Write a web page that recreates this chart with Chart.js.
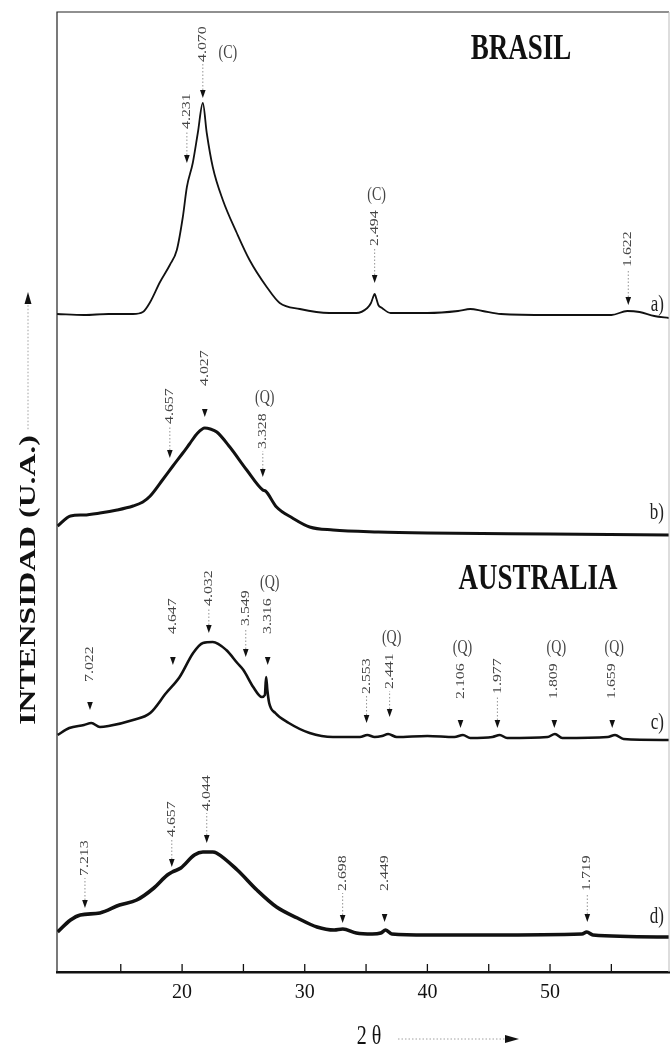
<!DOCTYPE html>
<html>
<head>
<meta charset="utf-8">
<script src="https://cdn.jsdelivr.net/npm/chart.js@4.4.0/dist/chart.umd.min.js"></script>
<style>
  body { margin: 0; background: #fff; }
</style>
</head>
<body>
<canvas id="xrd" width="671" height="1048"></canvas>
<script>
// 2 theta axis
const xTicks = [20, 30, 40, 50];
const xMinorTicks = [15, 20, 25, 30, 35, 40, 45, 50, 55];

// a) BRASIL  (intensity relative to own baseline, a.u.)
const thetaA = [9.8, 12, 14, 16, 16.8, 17.4, 18.2, 19.0, 19.57, 20.06, 20.39, 20.87, 21.28, 21.69, 22.01, 22.5, 23.32, 24.46, 25.5, 26.9, 27.96, 29.6, 32.0, 34.2, 35.1, 35.4, 35.55, 35.7, 35.85, 36.0, 36.3, 37.0, 40, 42.5, 43.5, 44.5, 46, 50, 55, 56.3, 57.3, 58.5, 59.7];
const intA   = [0, -1, 0, 0, 2, 12, 32, 49, 64, 97, 127, 151, 181, 211, 181, 147, 114, 81, 54, 27, 11, 5, 1, 1, 6, 11, 16, 20, 15, 9, 6, 1, 1, 3, 5, 3, 0, -1, -1, 3, 2, -2, -4];

// b)
const thetaB = [9.85, 10.9, 12, 13.3, 14.7, 16.0, 16.8, 17.4, 18.4, 19.25, 20.06, 20.6, 21.2, 21.85, 22.3, 22.83, 23.89, 25.27, 26.58, 26.8, 27.7, 29.0, 30.4, 32.3, 36, 40, 50, 59.7];
const intB   = [7, 17, 18, 20, 23, 27, 31, 37, 53, 67, 80, 89, 99, 105, 104, 101, 86, 63, 43, 42, 26, 15, 6, 3, 1, 0, -1, -2];

// c) AUSTRALIA
const thetaC = [9.85, 10.8, 12.0, 12.6, 13.3, 14.0, 16.0, 17.4, 18.7, 19.8, 20.9, 21.7, 22.5, 23.6, 24.5, 25.0, 25.8, 26.5, 26.75, 26.85, 26.95, 27.1, 27.6, 28.7, 30.4, 32.3, 34.5, 35.1, 35.7, 36.3, 36.8, 37.5, 40, 42.2, 42.9, 43.5, 45.3, 45.9, 46.5, 49.8, 50.4, 51, 54.7, 55.3, 56, 59.7];
const intC   = [2, 9, 12, 14, 10, 11, 17, 24, 44, 60, 84, 94, 95, 87, 74, 67, 50, 40, 42, 60, 47, 34, 24, 14, 4, 0, 0, 2, 0, 1, 3, 0, 1, 0, 2, -1, 0, 2, -1, 0, 3, -1, 0, 2, -2, -3];

// d)
const thetaD = [9.85, 10.9, 11.7, 13.3, 14.9, 16.3, 17.7, 18.8, 19.2, 19.9, 21.0, 21.7, 22.5, 22.8, 24.5, 26.1, 27.7, 29.4, 31.0, 32.4, 33.1, 34.2, 35.5, 36.2, 36.6, 37.1, 40, 45, 52.6, 53.0, 53.5, 59.7];
const intD   = [3, 15, 20, 22, 30, 35, 47, 60, 63, 67, 80, 83, 83, 82, 65, 45, 28, 17, 8, 5, 6, 2, 1, 2, 5, 1, 0, 0, 1, 3, 0, -2];

// peak labels: 2 theta of the arrow, arrow tip intensity, d spacing text, phase tag
const peakThetaA = [21.69, 20.39, 35.7, 56.38];
const peakTipA   = [216, 151, 31, 9];
const peakTextA  = ['4.070', '4.231', '2.494', '1.622'];
const peakTagA   = ['(C)', '', '(C)', ''];

const peakThetaB = [19.0, 21.85, 26.58];
const peakTipB   = [75, 116, 56];
const peakTextB  = ['4.657', '4.027', '3.328'];
const peakTagB   = ['', '', '(Q)'];

const peakThetaC = [12.49, 19.25, 22.18, 25.19, 26.98, 35.04, 36.92, 42.7, 45.71, 50.35, 55.07];
const peakTipC   = [27, 72, 104, 80, 72, 14, 20, 9, 9, 9, 9];
const peakTextC  = ['7.022', '4.647', '4.032', '3.549', '3.316', '2.553', '2.441', '2.106', '1.977', '1.809', '1.659'];
const peakTagC   = ['', '', '', '', '(Q)', '', '(Q)', '(Q)', '', '(Q)', '(Q)'];

const peakThetaD = [12.08, 19.16, 22.01, 33.09, 36.51, 53.04];
const peakTipD   = [27, 68, 92, 12, 13, 13];
const peakTextD  = ['7.213', '4.657', '4.044', '2.698', '2.449', '1.719'];
const peakTagD   = ['', '', '', '', '', ''];

const seriesNames = ['a)', 'b)', 'c)', 'd)'];

// layout (not data): vertical offsets of the stacked patterns, line widths, label leads
const offsets = [658, 439, 235, 37];
const lineWidths = [1.8, 3, 2.6, 3.6];
const leadA = [27, 25, 28, 29], dotsA = [1, 1, 1, 1];
const leadB = [25, 22, 19],     dotsB = [1, 0, 1];
const leadC = [19, 22, 18, 22, 22, 20, 19, 20, 25, 20, 20], dotsC = [0, 0, 1, 1, 0, 1, 1, 0, 1, 0, 0];
const leadD = [23, 21, 23, 23, 22, 22], dotsD = [1, 1, 1, 1, 0, 1];
const nameRise = [9, 20, 14, 18];
const STRETCH = 1.32;

const series = [
  { t: thetaA, v: intA, pk: [peakThetaA, peakTipA, peakTextA, peakTagA, leadA, dotsA] },
  { t: thetaB, v: intB, pk: [peakThetaB, peakTipB, peakTextB, peakTagB, leadB, dotsB] },
  { t: thetaC, v: intC, pk: [peakThetaC, peakTipC, peakTextC, peakTagC, leadC, dotsC] },
  { t: thetaD, v: intD, pk: [peakThetaD, peakTipD, peakTextD, peakTagD, leadD, dotsD] },
];

const datasets = series.map((s, k) => ({
  label: seriesNames[k],
  data: s.t.map((t, i) => ({ x: t, y: offsets[k] + s.v[i] })),
  borderColor: '#111',
  borderWidth: lineWidths[k],
  pointRadius: 0,
  tension: 0.3,
  cubicInterpolationMode: 'monotone',
  fill: false,
}));

// text squeezed/stretched vertically like the scanned figure
function stretchedText(ctx, txt, x, y, rotate) {
  ctx.save();
  ctx.translate(x, y);
  ctx.scale(1, STRETCH);
  if (rotate) ctx.rotate(-Math.PI / 2);
  ctx.fillText(txt, 0, 0);
  ctx.restore();
}

const decor = {
  id: 'decor',
  afterDraw(chart) {
    const { ctx, chartArea: ca, scales: { x, y } } = chart;
    ctx.save();

    // frame
    ctx.strokeStyle = '#222';
    ctx.lineWidth = 1.2;
    ctx.beginPath();
    ctx.moveTo(ca.left, ca.bottom); ctx.lineTo(ca.left, ca.top); ctx.lineTo(ca.right, ca.top);
    ctx.stroke();
    ctx.strokeStyle = '#bbb';
    ctx.lineWidth = 1;
    ctx.beginPath();
    ctx.moveTo(ca.right, ca.top); ctx.lineTo(ca.right, ca.bottom);
    ctx.stroke();

    // inward ticks
    ctx.strokeStyle = '#111';
    ctx.lineWidth = 1.3;
    xMinorTicks.forEach(v => {
      const px = x.getPixelForValue(v);
      ctx.beginPath(); ctx.moveTo(px, ca.bottom); ctx.lineTo(px, ca.bottom - 8); ctx.stroke();
    });

    // peak annotations
    series.forEach((s, k) => {
      const [th, tip, txt, tag, lead, dots] = s.pk;
      th.forEach((t, i) => {
        const px = x.getPixelForValue(t);
        const ty = y.getPixelForValue(offsets[k] + tip[i]);
        ctx.fillStyle = '#111';
        ctx.beginPath();
        ctx.moveTo(px, ty); ctx.lineTo(px - 2.8, ty - 8); ctx.lineTo(px + 2.8, ty - 8);
        ctx.closePath(); ctx.fill();
        const bottom = ty - 8 - lead[i];
        if (dots[i]) {
          ctx.strokeStyle = '#777';
          ctx.lineWidth = 0.8;
          ctx.setLineDash([1.5, 2]);
          ctx.beginPath(); ctx.moveTo(px, ty - 8); ctx.lineTo(px, bottom + 1); ctx.stroke();
          ctx.setLineDash([]);
        }
        ctx.fillStyle = '#444';
        ctx.font = '12px "Liberation Serif"';
        ctx.textAlign = 'left';
        ctx.textBaseline = 'middle';
        stretchedText(ctx, txt[i], px, bottom - 1, true);
        if (tag[i]) {
          const len = ctx.measureText(txt[i]).width * STRETCH;
          ctx.font = '14px "Liberation Serif"';
          ctx.textAlign = 'center';
          if (k === 0 && i === 0) stretchedText(ctx, tag[i], px + 25, bottom - 10, false);
          else stretchedText(ctx, tag[i], px + 2, bottom - len - 16, false);
        }
      });
      // series name
      ctx.fillStyle = '#222';
      ctx.font = '17px "Liberation Serif"';
      ctx.textAlign = 'right';
      ctx.textBaseline = 'middle';
      stretchedText(ctx, seriesNames[k], ca.right - 5, y.getPixelForValue(offsets[k]) - nameRise[k], false);
    });

    // region titles
    ctx.fillStyle = '#111';
    ctx.font = 'bold 27px "Liberation Serif"';
    ctx.textAlign = 'center';
    ctx.textBaseline = 'middle';
    stretchedText(ctx, 'BRASIL', 521, 50, false);
    stretchedText(ctx, 'AUSTRALIA', 538, 580, false);

    // y axis title with arrow
    const yTitle = 'INTENSIDAD (U.A.)';
    ctx.font = 'bold 24px "Liberation Serif"';
    ctx.textAlign = 'center';
    stretchedText(ctx, yTitle, 29, 580, true);
    const tw = ctx.measureText(yTitle).width * STRETCH;
    const topText = 580 - tw / 2;
    ctx.strokeStyle = '#888';
    ctx.lineWidth = 0.8;
    ctx.setLineDash([1.5, 2]);
    ctx.beginPath(); ctx.moveTo(28, topText - 6); ctx.lineTo(28, 302); ctx.stroke();
    ctx.setLineDash([]);
    ctx.fillStyle = '#111';
    ctx.beginPath(); ctx.moveTo(28, 292); ctx.lineTo(24.5, 304); ctx.lineTo(31.5, 304); ctx.closePath(); ctx.fill();

    // x axis title with arrow
    ctx.font = '20px "Liberation Serif"';
    ctx.textAlign = 'center';
    stretchedText(ctx, '2 θ', 369, 1037, false);
    ctx.strokeStyle = '#888';
    ctx.setLineDash([1.5, 2]);
    ctx.beginPath(); ctx.moveTo(398, 1039); ctx.lineTo(505, 1039); ctx.stroke();
    ctx.setLineDash([]);
    ctx.beginPath(); ctx.moveTo(519, 1039); ctx.lineTo(505, 1035); ctx.lineTo(505, 1043); ctx.closePath(); ctx.fill();

    ctx.restore();
  }
};

new Chart(document.getElementById('xrd'), {
  type: 'line',
  data: { datasets },
  options: {
    responsive: false,
    animation: false,
    layout: { padding: { left: 57, top: 12, right: 2, bottom: 0 } },
    plugins: { legend: { display: false }, tooltip: { enabled: false } },
    scales: {
      x: {
        type: 'linear',
        min: 9.8,
        max: 59.7,
        afterFit: scale => { scale.height = 76; },
        afterBuildTicks: scale => { scale.ticks = xTicks.map(v => ({ value: v })); },
        grid: { display: false, drawTicks: false },
        border: { display: true, color: '#111', width: 2.5 },
        ticks: {
          color: '#111',
          padding: 9,
          maxRotation: 0,
          font: { family: '"Liberation Serif"', size: 20 },
        },
      },
      y: {
        display: false,
        min: 0,
        max: 960,
      },
    },
  },
  plugins: [decor],
});
</script>
</body>
</html>
